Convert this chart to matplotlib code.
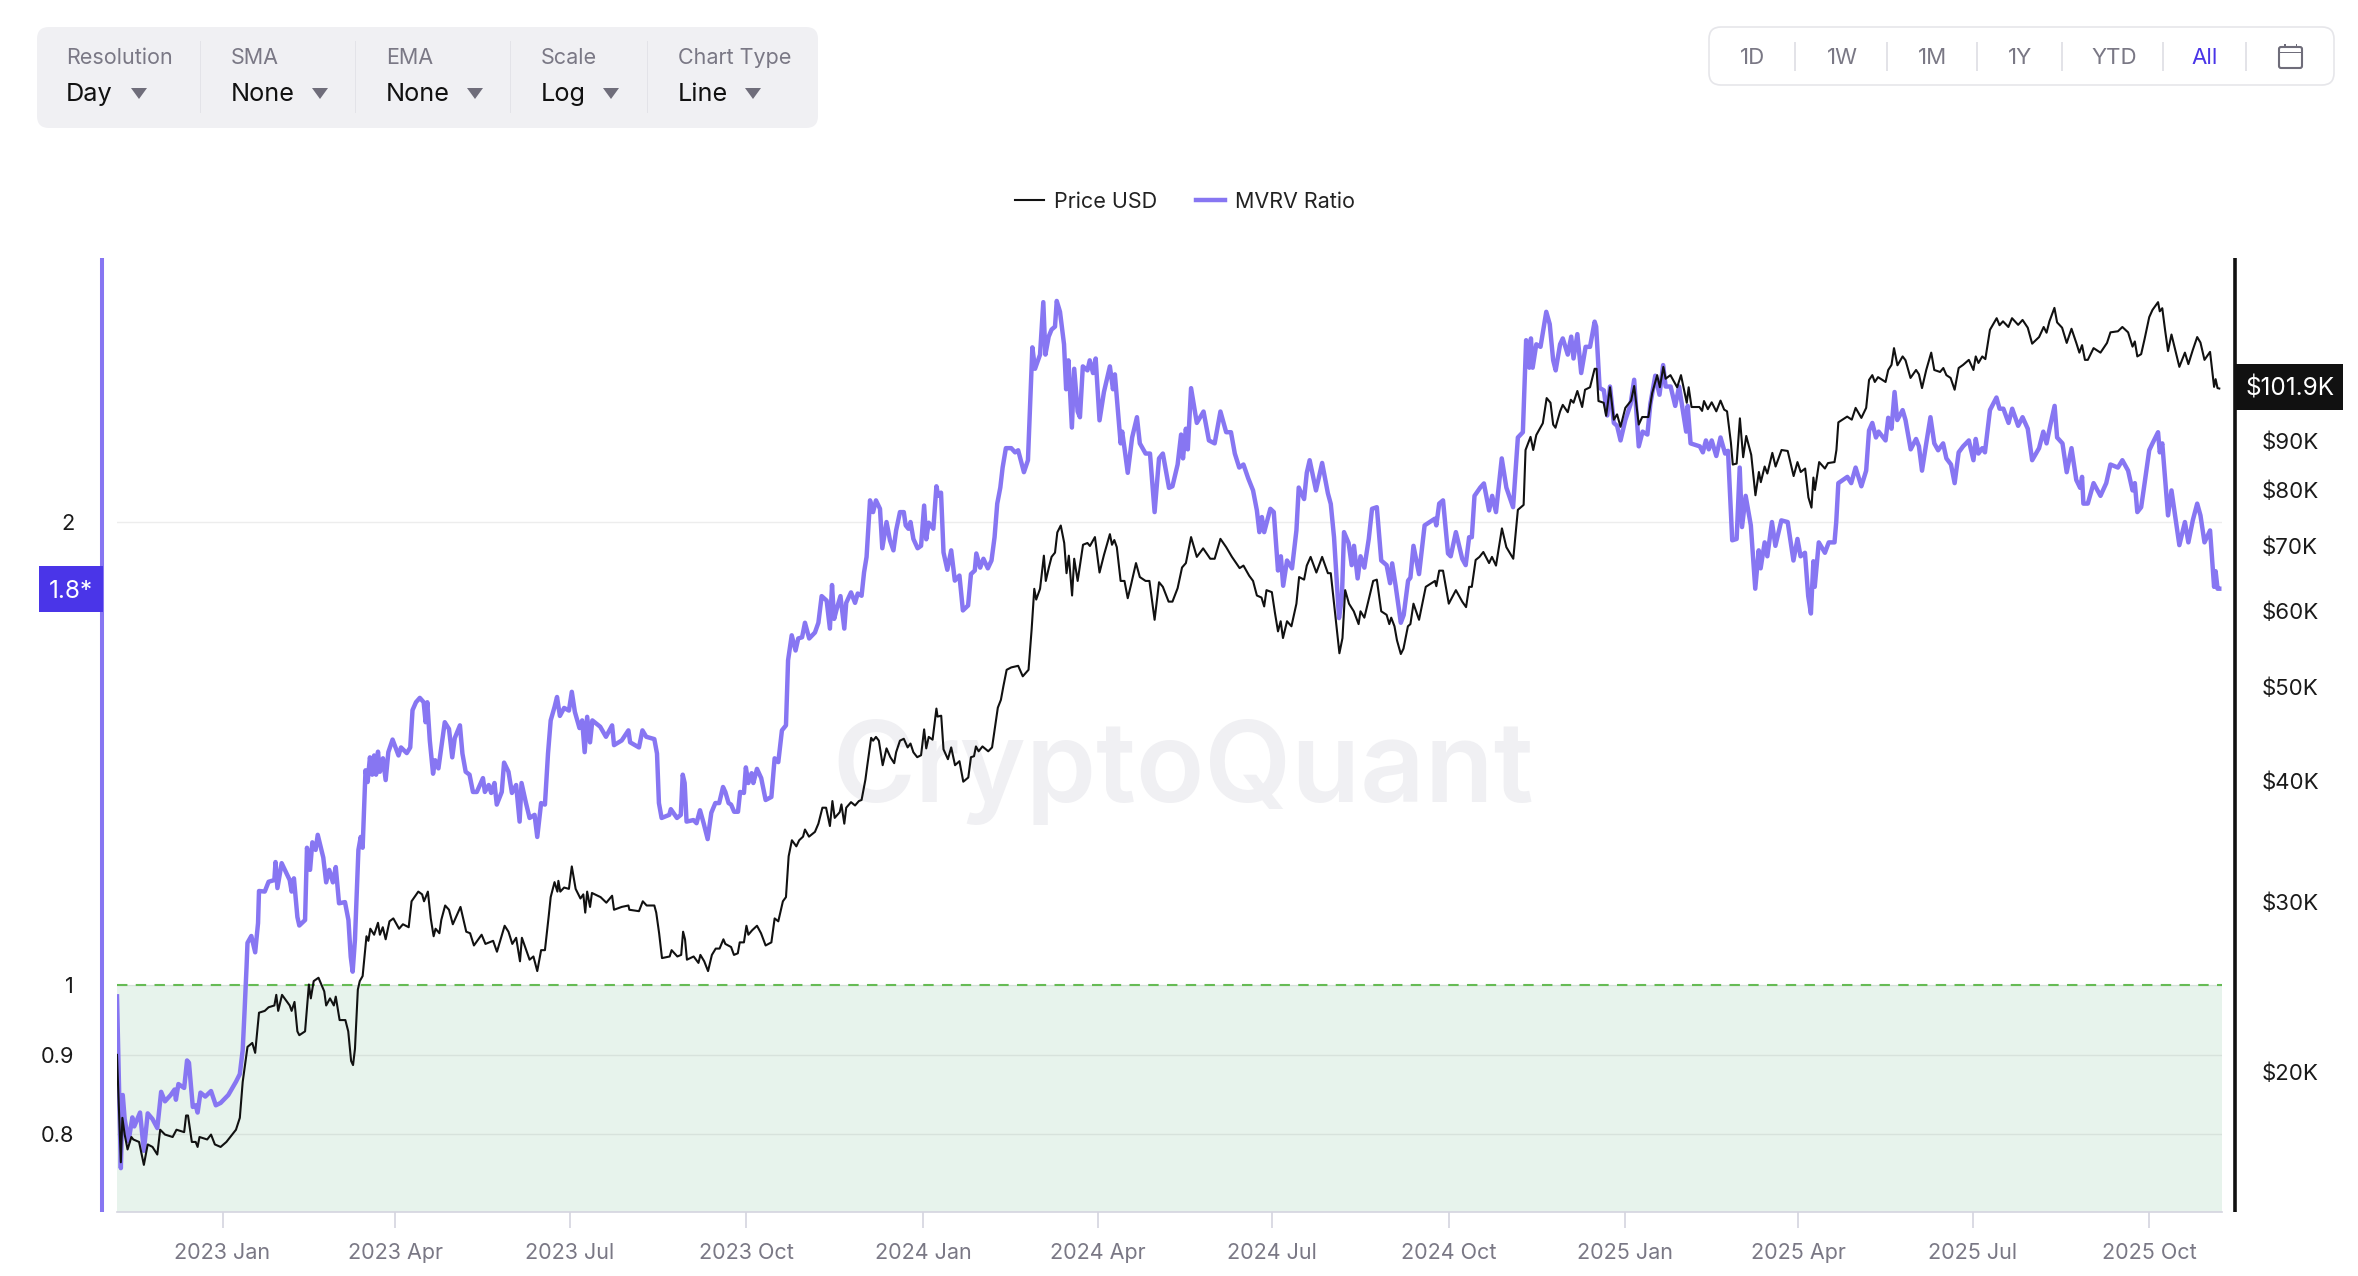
import numpy as np
import matplotlib
matplotlib.use('Agg')
import matplotlib.pyplot as plt
import matplotlib.dates as mdates
from matplotlib.patches import Rectangle, FancyBboxPatch, Polygon
from matplotlib.ticker import NullLocator, NullFormatter

plt.rcParams['font.family'] = ['Inter', 'DejaVu Sans']

W, H = 2358, 1276
start_date = '2022-11-07'

# days since start_date / price in thousand USD
price_days = [
    0, 2, 2.8, 4, 5.5, 7.5, 8.5, 11.5, 14, 16,
    18.5, 21, 22.5, 25, 29, 31, 35, 36, 37, 39,
    41, 42, 43, 47, 49, 51, 54, 57, 62, 64,
    65.5, 68, 70.5, 72, 74, 77, 79, 82, 83, 84,
    86, 90, 91, 92.5, 94, 95, 98, 100, 101, 102.5,
    105, 108, 109, 111, 113, 114, 116, 119, 120.5, 122,
    123, 124, 125.5, 126.5, 128, 130, 131, 132, 134, 136,
    137, 138.5, 140, 142, 144, 147, 149, 152, 153.5, 157,
    159, 160, 162, 163.5, 165, 166, 168, 169, 171, 173,
    175, 179, 182, 184, 186, 190, 192, 196, 198, 202,
    204, 206, 208, 210, 211, 213, 215, 217, 219, 221,
    223, 225, 226, 228, 229.5, 230, 231, 233, 235.5, 237,
    239, 241.5, 243, 244, 245, 246.5, 247.5, 252, 255, 258,
    259, 263, 266.5, 267, 272, 274, 276, 280, 281, 282.5,
    284, 288, 289, 292, 294, 295, 296, 297, 300.5, 303,
    304, 306, 308, 310, 312, 314, 316, 317, 320, 321.5,
    323.5, 324.5, 326.7, 328, 329, 331, 333.5, 335.6, 338, 341,
    342.7, 344.6, 347, 348.6, 350, 351.7, 354, 355.5, 357.5, 358.5,
    360.6, 363.7, 365.5, 367.6, 369.5, 371.5, 372.8, 374, 376.6, 377.5,
    379, 380, 382.5, 384.6, 386.6, 388, 390, 391, 393, 394,
    395.5, 397, 399, 401, 403, 405, 406, 408, 410, 412,
    413.5, 415, 417, 419, 420.6, 421.7, 423, 425, 427, 427.6,
    429.5, 430.7, 433, 434.7, 436.7, 439, 441, 443.6, 445, 446.6,
    447.6, 449, 451, 454, 456, 457.6, 459, 460.6, 461.9, 463.6,
    466, 469.6, 472, 475, 476.6, 478, 479, 481, 483, 484,
    485.6, 487, 488.8, 490, 491.8, 493.6, 494.8, 496, 497.7, 498.8,
    500.6, 503.4, 505.7, 507, 509.6, 512, 514.3, 517.4, 518.5, 519.7,
    521, 523, 525, 526.7, 528.4, 531, 533, 536, 538, 540.7,
    543, 545, 548, 550, 552.7, 555, 557, 559.7, 562.7, 566,
    569.7, 572, 575, 578, 581, 585, 587, 590, 592, 594,
    596.4, 597.8, 599, 601.8, 603.4, 605, 606.4, 607.6, 609.7, 612,
    614.6, 616, 618.6, 620, 622, 625, 628, 631, 632.5, 634,
    637, 638.6, 640, 642, 644.5, 647, 648, 650, 652, 654.6,
    656.5, 658.8, 661.6, 663, 664, 665.7, 667, 669, 670.4, 672.7,
    674, 675.6, 678.5, 682, 686.8, 687.5, 689, 691, 694, 697.7,
    701, 703, 704.6, 706, 708, 710, 712, 715, 716.5, 718.6,
    721.7, 724, 727.6, 730, 733, 734, 736.6, 738, 739.6, 743,
    745, 747, 748.4, 749.6, 752, 753.4, 756, 757.6, 759, 761,
    763.5, 765, 767.6, 770, 771, 772, 774.7, 776, 778, 780,
    781.7, 783.5, 786, 789, 790.6, 793, 794.8, 798, 800, 802.6,
    804, 805.8, 807, 809.5, 813, 815, 818, 819, 820.5, 824.6,
    826, 827, 829, 831, 833.4, 835.6, 837.5, 839, 841, 842,
    844, 845.7, 847.4, 849, 851.6, 853.8, 855.6, 856.6, 858.6, 860,
    862.6, 864.3, 867.4, 870.6, 873.7, 875.7, 877.4, 879.7, 881.4, 883,
    884, 884.8, 887, 890, 891.6, 895, 896, 897, 901.6, 904,
    906, 909, 911.5, 913, 914.7, 916, 917.7, 921.6, 923, 924.7,
    926, 927.8, 930.5, 932, 934.6, 937.5, 939, 940.6, 942.8, 945.4,
    947, 950, 951.7, 953.3, 955.5, 957.6, 959.7, 962, 965, 967.4,
    968.6, 970, 972, 973.6, 976, 979.5, 981, 982.8, 985.6, 987.5,
    990.7, 993, 995.7, 998, 1001.6, 1004, 1005.5, 1007, 1009.6, 1011,
    1013.6, 1016, 1018.5, 1021, 1022.6, 1024, 1025.5, 1027, 1030, 1033.6,
    1037, 1038.8, 1042.7, 1045, 1048, 1050.3, 1051.5, 1052.8, 1054.8, 1056.6,
    1059, 1060.7, 1063.6, 1064.5, 1065.8, 1067.3, 1068.8, 1070.6, 1074.7, 1077.6,
    1079.4, 1081.7, 1084, 1085.7, 1087.8, 1090.7, 1092.8, 1093.6, 1094.6, 1095.5,
]
price_k = [
    20.8, 16.1, 17.9, 17.2, 16.6, 17.1, 17.0, 16.9, 16.0, 16.8,
    16.7, 16.4, 17.4, 17.2, 17.1, 17.4, 17.3, 18.0, 18.0, 16.9,
    16.9, 16.7, 17.1, 17.0, 17.2, 16.8, 16.7, 16.9, 17.4, 17.9,
    19.5, 21.2, 21.4, 20.9, 23.0, 23.1, 23.3, 23.4, 24.0, 23.1,
    24.0, 23.4, 23.1, 23.6, 22.0, 21.8, 22.0, 24.6, 23.8, 24.8,
    25.0, 24.2, 23.4, 23.8, 23.4, 23.9, 22.6, 22.6, 22.0, 20.5,
    20.3, 21.1, 24.3, 24.8, 25.1, 27.6, 27.3, 28.1, 27.7, 28.5,
    27.7, 28.2, 27.4, 28.6, 28.8, 28.1, 28.4, 28.2, 30.0, 30.7,
    30.5, 30.0, 30.7, 28.8, 27.6, 28.1, 27.8, 28.7, 29.7, 29.4,
    28.4, 29.6, 27.9, 27.8, 27.0, 27.7, 27.1, 27.3, 26.6, 28.3,
    27.9, 27.1, 27.5, 26.0, 27.5, 26.8, 26.1, 26.3, 25.4, 26.7,
    26.7, 29.0, 30.3, 31.4, 30.7, 31.5, 30.7, 31.0, 30.9, 32.6,
    30.9, 30.2, 30.5, 29.2, 30.7, 29.6, 30.6, 30.3, 29.9, 30.4,
    29.4, 29.6, 29.7, 29.4, 29.3, 30.0, 29.7, 29.7, 29.2, 27.8,
    26.2, 26.3, 26.7, 26.3, 26.4, 27.9, 27.4, 26.1, 26.3, 25.9,
    26.4, 26.0, 25.4, 26.4, 26.8, 26.8, 27.4, 27.1, 26.9, 26.4,
    26.5, 27.2, 27.2, 28.3, 27.7, 28.0, 28.3, 27.8, 27.0, 27.2,
    28.8, 28.6, 30.0, 30.3, 33.4, 34.7, 34.2, 34.7, 35.0, 35.6,
    35.0, 35.4, 36.1, 37.5, 37.5, 35.9, 38.1, 36.6, 37.1, 37.8,
    36.1, 37.5, 38.0, 37.7, 38.1, 38.2, 40.1, 41.5, 44.3, 44.0,
    44.4, 44.0, 41.5, 43.2, 42.3, 41.7, 42.8, 44.0, 44.2, 43.3,
    43.7, 42.8, 42.3, 42.5, 45.2, 43.2, 44.4, 44.1, 47.5, 46.6,
    46.7, 43.1, 42.1, 43.3, 41.5, 41.9, 39.9, 40.3, 42.3, 42.4,
    43.4, 42.9, 43.4, 42.9, 43.3, 45.5, 47.6, 48.5, 50.1, 52.1,
    52.4, 52.6, 51.3, 52.1, 57.3, 63.2, 61.6, 63.2, 68.4, 64.4,
    66.5, 68.2, 68.9, 72.3, 73.5, 70.5, 65.6, 68.4, 62.2, 67.9,
    64.4, 70.2, 70.5, 70.0, 71.5, 65.7, 68.5, 72.0, 70.2, 71.0,
    69.8, 64.4, 64.4, 61.8, 63.8, 67.2, 65.0, 64.4, 64.4, 58.7,
    64.2, 63.5, 61.3, 61.3, 63.3, 66.5, 67.2, 71.5, 68.2, 69.6,
    67.9, 67.9, 71.2, 69.8, 68.2, 66.4, 66.8, 65.2, 64.4, 62.2,
    61.9, 60.6, 63.0, 62.7, 59.7, 57.1, 58.5, 56.2, 58.5, 57.8,
    61.0, 65.0, 64.6, 66.8, 68.2, 65.7, 68.2, 65.6, 65.6, 61.6,
    54.2, 56.2, 63.0, 61.0, 59.9, 58.1, 59.9, 59.0, 61.3, 64.4,
    64.6, 59.9, 59.4, 58.1, 59.0, 57.8, 55.9, 54.1, 54.8, 57.8,
    58.1, 61.0, 58.7, 63.5, 64.4, 63.6, 66.0, 66.0, 61.0, 63.0,
    61.3, 60.5, 63.5, 63.5, 67.7, 68.2, 69.0, 67.2, 68.2, 66.8,
    73.0, 69.8, 67.9, 76.3, 77.2, 88.0, 90.8, 88.0, 91.2, 93.8,
    99.6, 98.5, 93.5, 92.8, 96.5, 98.0, 96.3, 99.2, 98.5, 101.3,
    97.5, 101.6, 102.2, 106.8, 106.8, 98.9, 98.5, 95.5, 102.2, 94.6,
    95.8, 93.0, 97.3, 99.0, 102.5, 93.5, 95.2, 95.2, 100.8, 105.2,
    102.2, 107.3, 104.3, 105.2, 102.2, 105.2, 98.5, 102.2, 97.5, 97.5,
    96.6, 98.9, 97.0, 98.6, 96.5, 99.0, 96.9, 96.5, 89.6, 85.0,
    85.2, 94.9, 86.5, 91.0, 87.0, 79.0, 83.5, 81.5, 84.6, 83.2,
    87.4, 84.6, 88.0, 87.8, 82.7, 85.5, 83.5, 84.2, 78.6, 76.7,
    82.4, 80.0, 85.5, 84.2, 85.3, 85.5, 88.0, 94.0, 95.3, 94.6,
    97.3, 95.0, 97.3, 104.0, 105.2, 103.5, 104.7, 103.5, 106.5, 107.8,
    112.2, 107.7, 110.0, 109.0, 104.5, 106.5, 105.4, 102.0, 106.5, 111.0,
    106.5, 106.0, 107.0, 105.2, 104.5, 101.6, 107.0, 107.8, 109.1, 106.5,
    110.0, 108.3, 110.0, 109.3, 117.2, 120.5, 118.5, 119.6, 118.0, 120.5,
    118.6, 120.0, 117.8, 113.4, 115.2, 118.0, 116.4, 119.6, 123.5, 119.3,
    117.8, 113.6, 117.5, 113.6, 111.0, 113.0, 109.1, 109.1, 112.2, 111.0,
    113.6, 116.5, 116.8, 118.0, 116.5, 112.6, 114.0, 110.0, 110.6, 114.7,
    120.8, 122.9, 125.2, 122.5, 123.4, 117.0, 111.4, 115.9, 107.3, 111.0,
    108.0, 111.7, 115.2, 113.7, 109.1, 111.2, 102.3, 104.2, 102.0, 101.9,
]

mvrv_days = [
    0, 2, 3, 4, 6, 8, 9, 12, 14, 16,
    18.5, 21, 23, 25, 28, 30, 30.7, 32, 35, 36.5,
    37.5, 39.5, 41, 42, 43.5, 46, 49, 51.5, 54, 58,
    62, 64, 65.5, 66.5, 67.5, 68, 70, 72, 73.5, 74,
    77, 79, 82, 82.6, 83.6, 85.8, 90, 91, 92.2, 94,
    95, 98, 99, 100.6, 101.8, 103.5, 104.6, 107.5, 109, 110.6,
    112.5, 114, 115.7, 118.8, 120.6, 121.8, 122.8, 124, 125.8, 127,
    128, 129.5, 130.6, 131.8, 133, 134, 135, 136, 137, 138.6,
    140, 141.4, 143.6, 146.7, 148, 151, 152.8, 154, 155.8, 157.8,
    159.8, 160.8, 161.7, 163, 164.7, 165.8, 167.5, 169, 170.8, 173,
    174.7, 176, 178.7, 180, 181.7, 183.7, 185.5, 187.5, 190.7, 191.7,
    193.7, 195, 196.7, 197.9, 200.5, 201.7, 204, 205.8, 208, 209.8,
    210.8, 213, 215, 217.6, 219, 221, 223, 224.6, 226, 228,
    229.3, 230.8, 233, 235.5, 237, 238.6, 241, 242.4, 243.7, 245,
    246.5, 247.7, 251.8, 254.8, 258, 259, 263, 266.5, 267.4, 272,
    273.8, 275.8, 280, 281.4, 282.4, 283.8, 287.8, 288.6, 291.8, 293.8,
    294.8, 295.8, 296.8, 300.4, 302, 303.8, 305.7, 307.8, 309.7, 311.8,
    313.8, 315.8, 317, 318.7, 320, 321.6, 323.6, 324.7, 326.7, 327.7,
    329, 330.7, 331.6, 333.5, 335.7, 338, 341, 342.7, 344.6, 346.5,
    348.6, 349.7, 351.6, 353.6, 355, 357, 358.5, 360.7, 363.7, 365.5,
    367.2, 369.8, 371.5, 372.6, 373.7, 375, 377, 379, 380, 382.5,
    384.6, 386, 388, 389.3, 390.6, 392.4, 394, 395.5, 397.6, 398.8,
    401, 402.8, 404.6, 406, 408, 410, 411, 412.4, 413.5, 415,
    417.2, 419, 420.6, 421.7, 423, 425.4, 427, 428, 429.4, 430.7,
    432.7, 434.7, 436.6, 439, 440.8, 443.5, 445, 447, 447.8, 449.8,
    451.5, 453.8, 455.7, 457.3, 458.7, 460.3, 461.5, 463.2, 466, 468,
    469.6, 472.6, 474.7, 477, 478.4, 481, 482.7, 483.8, 485.5, 487,
    488.8, 489.7, 491.4, 493.5, 494.6, 495.8, 497.6, 498.8, 500.6, 501.8,
    503.3, 505.7, 506.9, 508.6, 510, 512, 514.3, 517.4, 519, 520,
    523, 523.8, 525, 526.7, 529, 531.5, 533, 536, 538.3, 540.7,
    543, 545, 548.2, 550, 552.7, 554.5, 555.5, 557, 558, 559.7,
    562.7, 566.2, 569, 572, 575, 578, 580.5, 582.5, 584.8, 587,
    589.5, 592, 594, 595.3, 596.6, 597.8, 599.4, 601, 602.8, 605,
    606.5, 607.7, 609.7, 612.3, 614.6, 615.8, 618.6, 620, 621.5, 624.8,
    628, 631, 632.5, 634.2, 636.8, 638.3, 639.4, 641.8, 643.4, 644.6,
    646.5, 648, 650, 652.3, 654, 656.5, 658.8, 661.6, 663.4, 664.5,
    666.3, 669, 670.5, 672.8, 674, 675.6, 678.5, 681.4, 686.7, 687.5,
    689, 691, 693.6, 695, 697.7, 701, 702.8, 704.6, 706, 707.4,
    710.4, 712.3, 715, 716.6, 718.6, 721.6, 724, 727.5, 730, 732.6,
    734.3, 736, 736.8, 737.7, 739.6, 741.8, 744.8, 746.6, 748.4, 749.7,
    752, 753.4, 756, 757.8, 759, 761, 763, 765.3, 767.6, 770,
    770.8, 772.6, 774.8, 776.6, 778, 780, 781.7, 783.5, 786, 788.7,
    790.6, 793, 795, 797.5, 799, 801.6, 803.8, 805.7, 807, 809.6,
    812, 814, 817.7, 818.5, 820, 824.8, 826.4, 828, 829.5, 831,
    833.4, 835.6, 838, 839.5, 841.7, 844, 845.6, 846.8, 848.7, 851.4,
    853.7, 855.5, 856.5, 858.6, 860, 862.4, 864.2, 867.3, 870.6, 873.6,
    875.7, 877.3, 879.6, 881.3, 882.7, 884, 884.7, 886.8, 890, 892,
    895, 895.9, 897, 901.7, 903.7, 906, 909, 911.5, 913, 914.7,
    916.6, 918, 921.6, 923, 924.7, 926.3, 927.7, 930.5, 932, 934.7,
    937.5, 939, 940.6, 942.8, 945, 947, 949, 951.6, 953.3, 955.7,
    957.6, 959.7, 962, 965, 967.4, 968.6, 970, 972, 973.4, 976,
    979.4, 981, 983, 985.7, 987.6, 990.7, 993, 995.7, 998, 1001.6,
    1003.8, 1005.5, 1007.4, 1009.7, 1011, 1013.8, 1016, 1018.5, 1021, 1023,
    1024, 1024.7, 1027, 1030, 1033.6, 1036.6, 1038.8, 1042.7, 1045, 1048,
    1050.3, 1051.5, 1052.8, 1054.8, 1056.6, 1059, 1060.7, 1063.6, 1064.5, 1065.8,
    1067.3, 1068.8, 1070.6, 1074.7, 1077.6, 1079.4, 1081.7, 1084, 1085.7, 1087.8,
    1090.7, 1092.8, 1093.6, 1094.6, 1095.5,
]
mvrv = [
    .983, .76, .848, .818, .791, .82, .809, .826, .78, .825,
    .818, .807, .852, .84, .848, .855, .842, .862, .857, .893,
    .89, .833, .835, .826, .851, .846, .853, .835, .838, .848,
    .865, .875, .907, .963, 1.027, 1.065, 1.076, 1.05, 1.097, 1.151,
    1.15, 1.167, 1.17, 1.202, 1.156, 1.2, 1.17, 1.15, 1.173, 1.107,
    1.093, 1.102, 1.228, 1.188, 1.238, 1.224, 1.252, 1.21, 1.166, 1.188,
    1.166, 1.193, 1.13, 1.132, 1.102, 1.043, 1.02, 1.07, 1.224, 1.248,
    1.228, 1.379, 1.355, 1.406, 1.37, 1.41, 1.37, 1.418, 1.376, 1.404,
    1.359, 1.417, 1.444, 1.41, 1.427, 1.415, 1.427, 1.509, 1.527, 1.537,
    1.527, 1.482, 1.527, 1.442, 1.372, 1.4, 1.383, 1.427, 1.482, 1.467,
    1.406, 1.447, 1.475, 1.414, 1.376, 1.37, 1.335, 1.335, 1.363, 1.335,
    1.349, 1.333, 1.353, 1.31, 1.335, 1.395, 1.376, 1.333, 1.349, 1.277,
    1.353, 1.315, 1.284, 1.29, 1.248, 1.313, 1.31, 1.414, 1.486, 1.516,
    1.539, 1.496, 1.514, 1.508, 1.551, 1.505, 1.469, 1.486, 1.417, 1.494,
    1.438, 1.486, 1.472, 1.45, 1.475, 1.432, 1.442, 1.464, 1.438, 1.427,
    1.464, 1.45, 1.445, 1.414, 1.313, 1.284, 1.29, 1.301, 1.284, 1.29,
    1.37, 1.353, 1.277, 1.28, 1.274, 1.299, 1.274, 1.244, 1.294, 1.313,
    1.313, 1.345, 1.335, 1.313, 1.31, 1.296, 1.296, 1.335, 1.333, 1.385,
    1.353, 1.373, 1.353, 1.382, 1.363, 1.319, 1.325, 1.404, 1.396, 1.464,
    1.475, 1.626, 1.688, 1.65, 1.68, 1.683, 1.72, 1.68, 1.695, 1.72,
    1.79, 1.778, 1.705, 1.82, 1.73, 1.755, 1.79, 1.705, 1.772, 1.8,
    1.772, 1.797, 1.791, 1.855, 1.898, 2.066, 2.03, 2.066, 2.04, 1.923,
    2.0, 1.946, 1.917, 1.975, 2.03, 2.03, 1.99, 1.98, 2.0, 1.95,
    1.923, 1.93, 2.05, 1.949, 1.998, 1.98, 2.11, 2.08, 2.09, 1.911,
    1.862, 1.917, 1.832, 1.846, 1.752, 1.765, 1.85, 1.86, 1.908, 1.868,
    1.893, 1.866, 1.888, 1.955, 2.056, 2.106, 2.17, 2.234, 2.234, 2.22,
    2.227, 2.155, 2.194, 2.598, 2.516, 2.57, 2.78, 2.57, 2.64, 2.668,
    2.68, 2.785, 2.74, 2.61, 2.44, 2.548, 2.304, 2.516, 2.36, 2.34,
    2.525, 2.51, 2.548, 2.5, 2.555, 2.329, 2.43, 2.525, 2.44, 2.495,
    2.25, 2.29, 2.234, 2.153, 2.27, 2.34, 2.25, 2.216, 2.216, 2.03,
    2.2, 2.216, 2.105, 2.11, 2.18, 2.28, 2.2, 2.3, 2.23, 2.444,
    2.32, 2.36, 2.26, 2.25, 2.36, 2.288, 2.288, 2.216, 2.17, 2.18,
    2.135, 2.097, 2.035, 1.97, 2.015, 1.97, 2.005, 2.04, 2.03, 1.86,
    1.9, 1.818, 1.888, 1.866, 1.975, 2.106, 2.07, 2.153, 2.194, 2.097,
    2.185, 2.088, 2.055, 1.955, 1.732, 1.785, 1.97, 1.938, 1.875, 1.93,
    1.838, 1.9, 1.868, 1.95, 2.04, 2.045, 1.888, 1.875, 1.825, 1.88,
    1.818, 1.72, 1.74, 1.832, 1.84, 1.93, 1.85, 1.99, 2.01, 1.99,
    2.056, 2.066, 1.908, 1.9, 1.97, 1.893, 1.875, 1.955, 1.955, 2.08,
    2.106, 2.119, 2.035, 2.08, 2.03, 2.2, 2.106, 2.045, 2.27, 2.288,
    2.626, 2.52, 2.633, 2.52, 2.61, 2.6, 2.74, 2.69, 2.548, 2.51,
    2.61, 2.633, 2.57, 2.64, 2.555, 2.65, 2.5, 2.6, 2.6, 2.7,
    2.68, 2.445, 2.436, 2.346, 2.45, 2.32, 2.31, 2.26, 2.33, 2.385,
    2.475, 2.24, 2.29, 2.28, 2.385, 2.49, 2.42, 2.53, 2.45, 2.45,
    2.38, 2.45, 2.29, 2.38, 2.25, 2.24, 2.22, 2.26, 2.23, 2.26,
    2.208, 2.27, 2.216, 2.225, 1.946, 1.95, 2.17, 1.985, 2.08, 1.99,
    1.81, 1.917, 1.866, 1.94, 1.9, 2.0, 1.93, 2.005, 2.0, 1.888,
    1.95, 1.9, 1.91, 1.79, 1.744, 1.886, 1.815, 1.94, 1.91, 1.94,
    1.94, 2.0, 2.12, 2.14, 2.12, 2.17, 2.11, 2.16, 2.294, 2.32,
    2.27, 2.29, 2.26, 2.338, 2.3, 2.43, 2.33, 2.365, 2.33, 2.23,
    2.265, 2.24, 2.16, 2.25, 2.34, 2.25, 2.227, 2.25, 2.2, 2.18,
    2.12, 2.22, 2.24, 2.26, 2.194, 2.265, 2.216, 2.234, 2.22, 2.365,
    2.41, 2.37, 2.37, 2.32, 2.37, 2.31, 2.34, 2.3, 2.194, 2.234,
    2.29, 2.25, 2.31, 2.38, 2.27, 2.25, 2.155, 2.234, 2.13, 2.105,
    2.14, 2.056, 2.056, 2.12, 2.08, 2.12, 2.18, 2.17, 2.194, 2.16,
    2.097, 2.12, 2.03, 2.045, 2.12, 2.227, 2.25, 2.288, 2.22, 2.25,
    2.13, 2.02, 2.097, 1.932, 2.0, 1.94, 2.005, 2.056, 2.02, 1.94,
    1.975, 1.815, 1.858, 1.81, 1.81,
]

x_tick_dates = ['2023-01-01', '2023-04-01', '2023-07-01', '2023-10-01',
                '2024-01-01', '2024-04-01', '2024-07-01', '2024-10-01',
                '2025-01-01', '2025-04-01', '2025-07-01', '2025-10-01']
x_tick_labels = ['2023 Jan', '2023 Apr', '2023 Jul', '2023 Oct',
                 '2024 Jan', '2024 Apr', '2024 Jul', '2024 Oct',
                 '2025 Jan', '2025 Apr', '2025 Jul', '2025 Oct']
mvrv_ticks = [0.8, 0.9, 1, 2]
mvrv_tick_labels = ['0.8', '0.9', '1', '2']
price_ticks = [20, 30, 40, 50, 60, 70, 80, 90]
price_tick_labels = ['$20K', '$30K', '$40K', '$50K', '$60K', '$70K', '$80K', '$90K']
last_price = 101.9
last_mvrv = 1.81

PURPLE = '#8776f2'
INDIGO = '#4a35e8'
BLACK = '#111111'
GREY = '#7a7885'
DIVIDER = '#e3e3e8'

fig = plt.figure(figsize=(W / 100, H / 100), dpi=100, facecolor='white')
ax_left, ax_right, ax_top, ax_bottom = 117, 2222, 258, 1212
ax = fig.add_axes([ax_left / W, 1 - ax_bottom / H, (ax_right - ax_left) / W, (ax_bottom - ax_top) / H])
ax.patch.set_visible(False)


def fx(x):
    return x / W


def fy(y):
    return 1 - y / H


def box(x0, y0, x1, y1, **kw):
    fig.add_artist(Rectangle((fx(x0), fy(y1)), (x1 - x0) / W, (y1 - y0) / H,
                             transform=fig.transFigure, **kw))


def rounded(x0, y0, x1, y1, r, **kw):
    # drawn in pixels so the corners stay round
    fig.add_artist(FancyBboxPatch((x0 + r, H - y1 + r), x1 - x0 - 2 * r, y1 - y0 - 2 * r,
                                  boxstyle='round,pad=%g,rounding_size=%g' % (r, r),
                                  transform=matplotlib.transforms.IdentityTransform(), **kw))


def label(x, y, s, **kw):
    fig.text(fx(x), fy(y + 1.5), s, va='center', **kw)


start = mdates.date2num(np.datetime64(start_date))
price_x = start + np.array(price_days)
mvrv_x = start + np.array(mvrv_days)

# watermark sits under both lines
ax.text(fx(1183), fy(802), 'CryptoQuant', transform=fig.transFigure, ha='center', va='baseline',
        fontsize=81, fontweight='semibold', color='#f0f0f3', zorder=0, clip_on=False)

# MVRV axis
ax.set_yscale('log')
ax.axhspan(0.5, 1, facecolor='#1a8a4a', alpha=0.1, lw=0, zorder=1)
ax.axhline(1, color='#66bb55', lw=1.5, dashes=(5, 4), zorder=2)
ax.plot(mvrv_x, mvrv, color=PURPLE, lw=3.2, solid_joinstyle='round', zorder=3, label='MVRV Ratio')
ax.set_ylim(0.7117, 2.97)
ax.set_xlim(start, start + (ax_right - ax_left) / 1.919)
ax.set_yticks(mvrv_ticks)
ax.set_yticklabels(mvrv_tick_labels)
ax.yaxis.set_minor_locator(NullLocator())
ax.yaxis.set_minor_formatter(NullFormatter())
ax.grid(axis='y', color='#ededed', lw=1.0, zorder=0)
ax.set_axisbelow(True)
ax.set_xticks(mdates.date2num(np.array(x_tick_dates, dtype='datetime64[D]')))
ax.set_xticklabels(x_tick_labels)
ax.tick_params(axis='x', length=11.5, width=1.2, color='#d4d4df', labelcolor=GREY, labelsize=15.5, pad=10.5)
ax.tick_params(axis='y', length=0, labelcolor='#1a1a1a', labelsize=15.7, pad=20)
for side in ['top', 'right']:
    ax.spines[side].set_visible(False)
ax.spines['bottom'].set_color('#d4d4df')
ax.spines['bottom'].set_linewidth(1.2)
ax.spines['left'].set_position(('outward', 10.8))
ax.spines['left'].set_color(PURPLE)
ax.spines['left'].set_linewidth(2.9)
ax.spines['left'].set_capstyle('butt')

# price axis, on top of the ratio
ax2 = ax.twinx()
ax2.patch.set_visible(False)
ax2.set_yscale('log')
ax2.plot(price_x, price_k, color=BLACK, lw=1.5, solid_joinstyle='round', zorder=3, label='Price USD')
ax2.set_ylim(14.3, 139.1)
ax2.set_yticks(price_ticks)
ax2.set_yticklabels(price_tick_labels)
ax2.yaxis.set_minor_locator(NullLocator())
ax2.yaxis.set_minor_formatter(NullFormatter())
ax2.tick_params(axis='y', length=0, labelcolor='#1a1a1a', labelsize=16, pad=19)
for side in ['top', 'left', 'bottom']:
    ax2.spines[side].set_visible(False)
ax2.spines['right'].set_position(('outward', 9.4))
ax2.spines['right'].set_color(BLACK)
ax2.spines['right'].set_linewidth(2.6)
ax2.spines['right'].set_capstyle('butt')

# legend
h1 = ax2.get_lines()[0]
h2 = ax.get_lines()[-1]
fig.legend([h1, h2], ['Price USD', 'MVRV Ratio'], ncols=2, frameon=False, fontsize=15.5,
           labelcolor='#222222', handlelength=1.35, handletextpad=0.46, columnspacing=1.77,
           loc='center', bbox_to_anchor=(fx(1185), fy(201.5)))

# value badges on the two axes
box(39, 566, 103, 612, facecolor=INDIGO, edgecolor='none')
label(71, 590, '%.1f*' % round(last_mvrv, 1), color='white', fontsize=17.5, ha='center')
box(2236, 364, 2343, 410, facecolor=BLACK, edgecolor='none')
label(2290, 387, '$%.1fK' % last_price, color='white', fontsize=17.5, ha='center')

# controls, top left
rounded(37, 27, 818, 128, 12, facecolor='#f0f0f3', edgecolor='none')
control_names = ['Resolution', 'SMA', 'EMA', 'Scale', 'Chart Type']
control_values = ['Day', 'None', 'None', 'Log', 'Line']
control_x = [66, 231, 386, 541, 678]
control_arrow_x = [139, 320, 475, 611, 753]
for name, value, cx, tx in zip(control_names, control_values, control_x, control_arrow_x):
    label(cx, 56, name, color=GREY, fontsize=15.5, ha='left')
    label(cx, 93, value, color=BLACK, fontsize=18.2, ha='left')
    fig.add_artist(Polygon([(fx(tx - 8), fy(88)), (fx(tx + 8), fy(88)), (fx(tx), fy(99))],
                           transform=fig.transFigure, facecolor='#6f6d7a', edgecolor='none'))
for dx in [200.5, 355.6, 510.6, 647.7]:
    box(dx - 0.75, 41, dx + 0.75, 113, facecolor=DIVIDER, edgecolor='none')

# range selector, top right
rounded(1709, 27, 2334, 85, 12, facecolor='white', edgecolor='#e6e6ea', lw=1.2)
range_names = ['1D', '1W', '1M', '1Y', 'YTD', 'All']
range_x = [1752.5, 1842, 1933, 2020, 2114, 2205]
for name, rx in zip(range_names, range_x):
    label(rx, 56.5, name, color=INDIGO if name == 'All' else GREY, fontsize=16, ha='center')
for dx in [1795, 1887, 1977, 2062, 2163, 2246]:
    box(dx - 0.75, 42, dx + 0.75, 71, facecolor=DIVIDER, edgecolor='none')
# calendar icon
rounded(2279, 47, 2302, 68, 2, facecolor='none', edgecolor='#6f6d7a', lw=1.5)
box(2279, 51.5, 2302, 53, facecolor='#6f6d7a', edgecolor='none')
box(2284, 44, 2285.5, 48, facecolor='#6f6d7a', edgecolor='none')
box(2295.5, 44, 2297, 48, facecolor='#6f6d7a', edgecolor='none')

fig.savefig('out.png', dpi=100)
